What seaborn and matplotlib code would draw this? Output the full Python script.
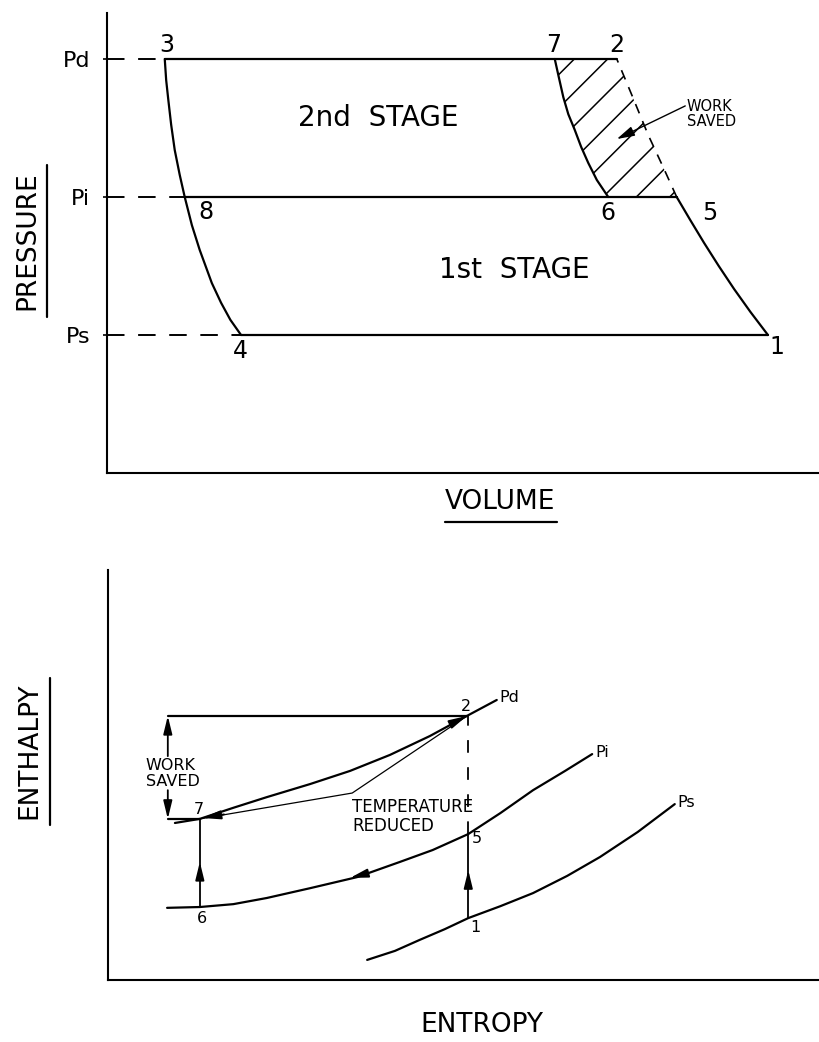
import numpy as np
import matplotlib.pyplot as plt
import seaborn as sns
from matplotlib.lines import Line2D

# =====================================================
# DATA (arbitrary units)
# =====================================================

# pressure levels on the P-V diagram
P_LEVELS = [90, 60, 30]
P_NAMES = ["Pd", "Pi", "Ps"]

# re-expansion curve 3 -> 8 -> 4
exp_v = [8.1, 8.3, 8.6, 9.0, 9.5, 10.2, 10.9, 11.9, 13.0, 14.7, 16.0, 17.3, 18.8]
exp_p = [90, 85.4, 81.1, 75.7, 70.2, 64.8, 60, 53.9, 48.5, 41.3, 37.0, 33.3, 30]

# 2nd stage compression after intercooling 6 -> 7
c67_v = [70.3, 68.7, 67.5, 66.5, 65.6, 64.7, 64.0, 63.3, 62.8]
c67_p = [60, 63.7, 67.4, 70.9, 74.6, 78.0, 81.7, 86.5, 90]

# 1st stage compression 1 -> 5
c15_v = [92.7, 90.25, 87.95, 85.8, 83.75, 81.8, 79.9]
c15_p = [30, 35, 40, 45, 50, 55, 60]

# compression continued without intercooling 5 -> 2
c52_v = [79.9, 78.0, 75.9, 73.6, 71.5]
c52_p = [60, 66.5, 73.5, 82.2, 90]

# state points on P-V
pv_points = {"1": (92.7, 30), "2": (71.5, 90), "3": (8.1, 90), "4": (18.8, 30),
             "5": (79.9, 60), "6": (70.3, 60), "7": (62.8, 90), "8": (10.9, 60)}

# h-s diagram isobars
pd_s = [9.4, 12.9, 17.6, 22.3, 28.4, 34.0, 39.6, 45.2, 50.4, 54.6]
pd_h = [38.3, 39.3, 42.0, 44.6, 47.8, 51.0, 54.9, 59.5, 64.4, 68.3]
pi_s = [8.3, 12.9, 17.6, 22.3, 28.4, 35.0, 41.0, 45.6, 50.6, 55.1, 59.7, 64.2, 68.0]
pi_h = [17.6, 17.8, 18.5, 20.0, 22.4, 25.1, 28.8, 31.7, 35.6, 40.7, 46.3, 51.0, 55.1]
ps_s = [36.4, 40.3, 43.8, 47.3, 50.6, 55.1, 59.7, 64.5, 69.1, 74.4, 79.6]
ps_h = [4.9, 7.1, 9.8, 12.4, 15.1, 18.0, 21.2, 25.4, 30.0, 36.1, 42.9]

# uncooled path 2 -> 7 (thin line)
cool_s = [50.4, 34.3, 12.9]
cool_h = [64.4, 45.6, 39.3]

# state points on h-s
hs_points = {"1": (50.6, 15.1), "2": (50.4, 64.4), "5": (50.6, 35.6),
             "6": (12.9, 17.8), "7": (12.9, 39.3)}
work_s = 8.4

# =====================================================
# FIGURE
# =====================================================

sns.set_theme(style="white")
plt.rcParams['font.family'] = ['DejaVu Sans']
plt.rcParams['text.color'] = 'black'
plt.rcParams['ytick.color'] = 'black'
plt.rcParams['hatch.linewidth'] = 1.1

LW = 1.6
fig = plt.figure(figsize=(8.2, 10.42), dpi=100)

ax1 = fig.add_axes([107/820, 1-473/1042, 713/820, 460/1042])
ax2 = fig.add_axes([108/820, 1-980/1042, 712/820, 410/1042])

for ax in (ax1, ax2):
    ax.set_xlim(0, 100)
    ax.set_ylim(0, 100)
    for side in ("top", "right"):
        ax.spines[side].set_visible(False)
    for side in ("left", "bottom"):
        ax.spines[side].set_color("black")
        ax.spines[side].set_linewidth(1.5)
    ax.set_xticks([])
    ax.set_xlabel("")
    ax.set_ylabel("")

# -------------------- P-V diagram --------------------
ax1.set_yticks(P_LEVELS)
ax1.set_yticklabels(P_NAMES, fontsize=16, color="black")
ax1.tick_params(axis="y", length=3, width=1.2, color="black", pad=9, left=True)

# hatched work saved region 7-2-5-6
ax1.fill(c52_v[::-1] + c67_v, c52_p[::-1] + c67_p, fill=False,
         hatch="/", edgecolor="black", linewidth=0)

sns.lineplot(x=exp_v, y=exp_p, ax=ax1, color="black", lw=LW, sort=False, estimator=None)
sns.lineplot(x=c67_v, y=c67_p, ax=ax1, color="black", lw=LW, sort=False, estimator=None)
sns.lineplot(x=c15_v, y=c15_p, ax=ax1, color="black", lw=LW, sort=False, estimator=None)
ax1.plot(c52_v, c52_p, color="black", lw=1.2, linestyle=(0, (6, 5)))

# horizontal process lines
ax1.plot([pv_points["3"][0], pv_points["2"][0]], [P_LEVELS[0]] * 2, color="black", lw=LW)
ax1.plot([pv_points["8"][0], pv_points["5"][0]], [P_LEVELS[1]] * 2, color="black", lw=LW)
ax1.plot([pv_points["4"][0], pv_points["1"][0]], [P_LEVELS[2]] * 2, color="black", lw=LW)

# dashed pressure guides
for key, p in zip(["3", "8", "4"], P_LEVELS):
    ax1.plot([0, pv_points[key][0]], [p, p], color="black", lw=1.4,
             linestyle=(0, (9, 7)))

pv_offsets = {"1": (6.5, -9), "2": (0, 10), "3": (1.4, 10), "4": (-0.7, -11.5),
              "5": (24, -11.5), "6": (0, -11.5), "7": (-0.7, 10), "8": (15, -11)}
for name, (v, p) in pv_points.items():
    ax1.annotate(name, (v, p), xytext=pv_offsets[name], textcoords="offset points",
                 ha="center", va="center", fontsize=17)

ax1.text(38.0, 77.2, "2nd  STAGE", ha="center", va="center", fontsize=20)
ax1.text(57.1, 44.1, "1st  STAGE", ha="center", va="center", fontsize=20)
ax1.text(81.3, 78.0, "WORK\nSAVED", ha="left", va="center", fontsize=10.5,
         linespacing=1.0)
ax1.annotate("", xy=(71.5, 72.6), xytext=(81.1, 79.8),
             arrowprops=dict(arrowstyle="-|>,head_length=0.9,head_width=0.25",
                             color="black", lw=1.0, mutation_scale=12,
                             shrinkA=0, shrinkB=0))

# -------------------- h-s diagram --------------------
ax2.set_yticks([])

for s_vals, h_vals in ((pd_s, pd_h), (pi_s, pi_h), (ps_s, ps_h)):
    sns.lineplot(x=s_vals, y=h_vals, ax=ax2, color="black", lw=LW,
                 sort=False, estimator=None)
ax2.plot(cool_s, cool_h, color="black", lw=0.9)

for name, s_vals, h_vals in (("Pd", pd_s, pd_h), ("Pi", pi_s, pi_h), ("Ps", ps_s, ps_h)):
    ax2.text(s_vals[-1] + 0.4, h_vals[-1] + 0.5, name, ha="left", va="center",
             fontsize=11.5)

s2, h2 = hs_points["2"]
s7, h7 = hs_points["7"]
s5, h5 = hs_points["5"]
s1, h1 = hs_points["1"]
s6, h6 = hs_points["6"]

# work saved bracket
ax2.plot([work_s, s2], [h2, h2], color="black", lw=LW)
ax2.plot([work_s, s7], [h7, h7], color="black", lw=LW)
ax2.plot([s5, s5], [h5, h2], color="black", lw=1.3, linestyle=(0, (7, 8)))
ax2.plot([s1, s5], [h1, h5], color="black", lw=1.3)
ax2.plot([s6, s7], [h6, h7], color="black", lw=1.3)

head = dict(arrowstyle="-|>,head_length=0.9,head_width=0.22", color="black",
            lw=1.3, mutation_scale=12, shrinkA=0, shrinkB=0)
ax2.annotate("", xy=(work_s, h2), xytext=(work_s, 54.6), arrowprops=head)
ax2.annotate("", xy=(work_s, h7), xytext=(work_s, 46.3), arrowprops=head)
ax2.annotate("", xy=(s5, 26.8), xytext=(s5, 24.0), arrowprops=head)
ax2.annotate("", xy=(s7, 28.8), xytext=(s7, 26.0), arrowprops=head)
ax2.annotate("", xy=(s2, h2), xytext=(48.0, 62.3), arrowprops=head)
ax2.annotate("", xy=(13.3, 39.5), xytext=(16.3, 40.4), arrowprops=head)
ax2.annotate("", xy=(34.0, 24.9), xytext=(36.2, 25.9), arrowprops=head)

hs_offsets = {"1": (5, -6.5), "2": (-0.7, 6.5), "5": (6.5, -3), "6": (1.4, -8.6),
              "7": (-0.7, 6.5)}
for name, (s, h) in hs_points.items():
    ax2.annotate(name, (s, h), xytext=hs_offsets[name], textcoords="offset points",
                 ha="center", va="center", fontsize=11.5)

ax2.text(5.3, 50.4, "WORK\nSAVED", ha="left", va="center", fontsize=11.5,
         linespacing=1.05)
ax2.text(34.3, 39.9, "TEMPERATURE\nREDUCED", ha="left", va="center", fontsize=12,
         linespacing=1.05)

# -------------------- axis titles --------------------
fig.text(500/820, 1-502/1042, "VOLUME", ha="center", va="center", fontsize=19)
fig.add_artist(Line2D([445/820, 557/820], [1-522/1042, 1-522/1042],
                      color="black", lw=1.6))
fig.text(482/820, 1-1025/1042, "ENTROPY", ha="center", va="center", fontsize=19)
fig.text(27/820, 1-241/1042, "PRESSURE", ha="center", va="center", fontsize=19,
         rotation=90)
fig.add_artist(Line2D([47/820, 47/820], [1-165/1042, 1-317/1042],
                      color="black", lw=1.6))
fig.text(29/820, 1-751/1042, "ENTHALPY", ha="center", va="center", fontsize=19,
         rotation=90)
fig.add_artist(Line2D([50/820, 50/820], [1-678/1042, 1-825/1042],
                      color="black", lw=1.6))

fig.savefig("out.png", dpi=100, facecolor="white")
plt.close()
